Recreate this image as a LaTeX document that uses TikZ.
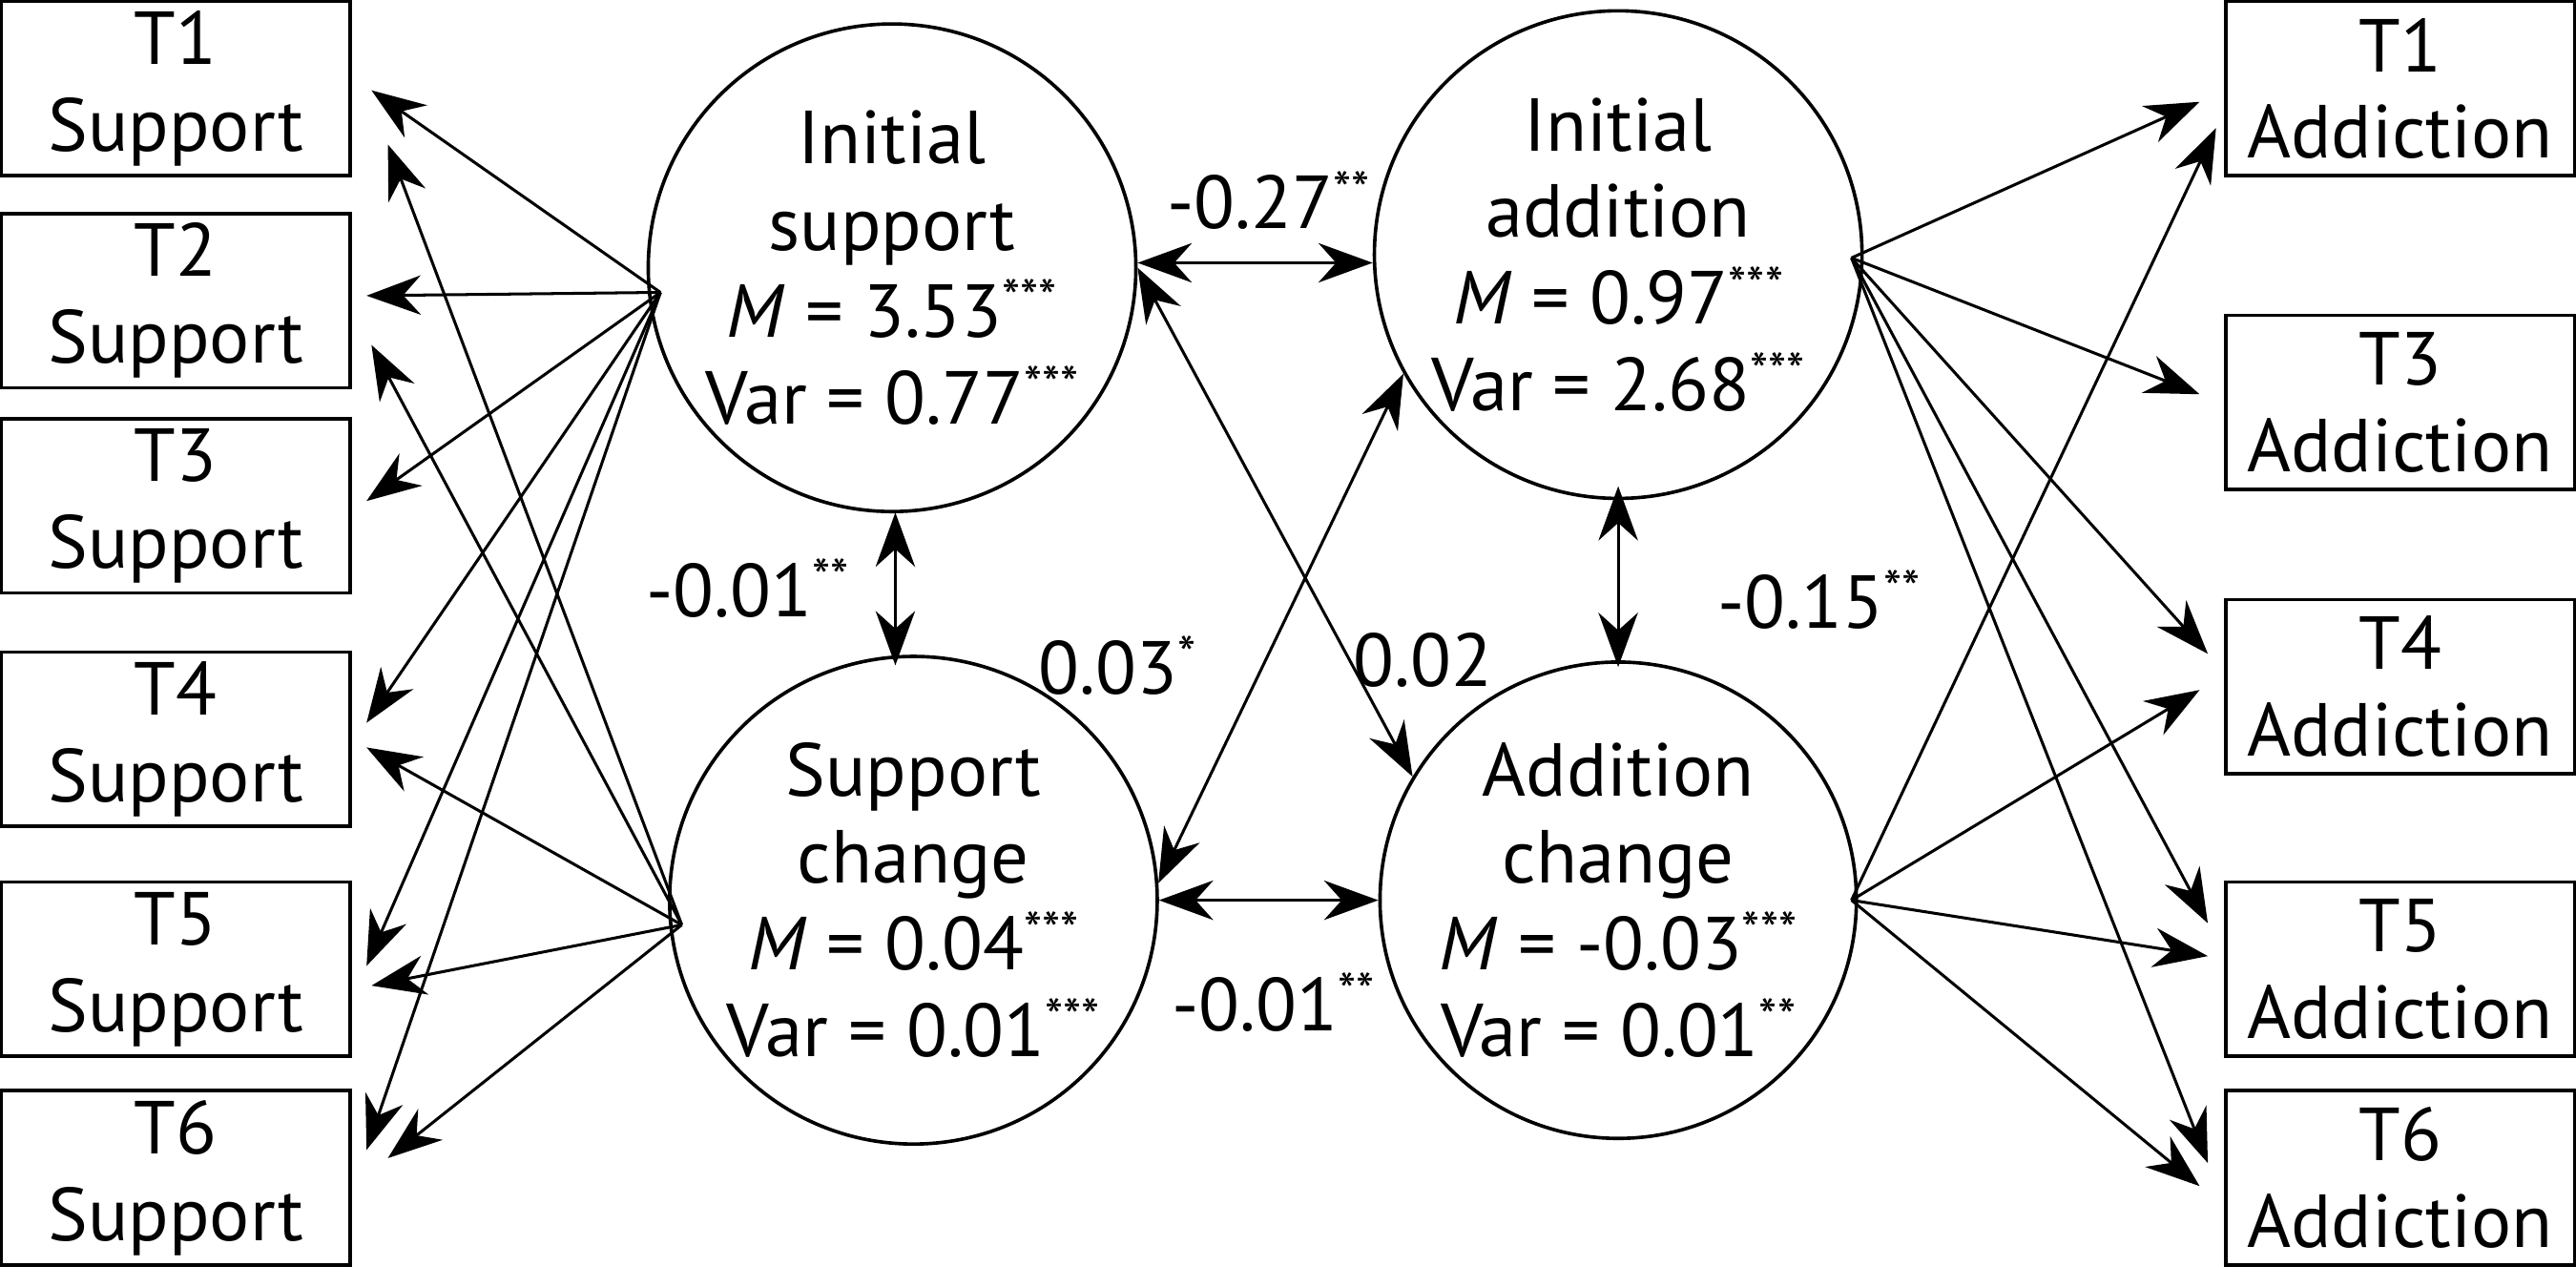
\documentclass[tikz,border=0pt]{standalone}
\usepackage{fontspec}
\setmainfont{PT Sans}
\usetikzlibrary{arrows.meta}
\begin{document}
\begin{tikzpicture}[x=0.01cm,y=-0.01cm,
  font=\fontsize{13}{15}\selectfont,
  box/.style={draw,line width=0.6pt,minimum width=2.12cm,minimum height=1.06cm,inner sep=0pt,align=center},
  lat/.style={draw,circle,line width=0.6pt,minimum size=2.84cm,inner sep=0pt,align=center},
  ar/.style={line width=0.5pt,-{Stealth[length=0.33cm,width=0.24cm]}},
  dar/.style={line width=0.5pt,{Stealth[length=0.33cm,width=0.24cm]}-{Stealth[length=0.33cm,width=0.24cm]}},
  lab/.style={inner sep=0pt}]
\useasboundingbox (0,0) rectangle (1568,783);
\newcommand{\st}[1]{\raisebox{0.55ex}{\fontsize{9}{9}\selectfont #1}}
% left boxes
\node[box] (s1) at (107,54) {T1\\Support};
\node[box] (s2) at (107,183) {T2\\Support};
\node[box] (s3) at (107,308) {T3\\Support};
\node[box] (s4) at (107,450) {T4\\Support};
\node[box] (s5) at (107,590) {T5\\Support};
\node[box] (s6) at (107,717) {T6\\Support};
% right boxes
\node[box] (a1) at (1461,54) {T1\\Addiction};
\node[box] (a3) at (1461,245) {T3\\Addiction};
\node[box] (a4) at (1461,418) {T4\\Addiction};
\node[box] (a5) at (1461,590) {T5\\Addiction};
\node[box] (a6) at (1461,717) {T6\\Addiction};
% latent
\node[lat] (is) at (543,163) {Initial\\support\\\textit{M} = 3.53\st{***}\\Var = 0.77\st{***}};
\node[lat] (ia) at (985,155) {Initial\\addition\\\textit{M} = 0.97\st{***}\\Var = 2.68\st{***}};
\node[lat] (sc) at (556,548) {Support\\change\\\textit{M} = 0.04\st{***}\\Var = 0.01\st{***}};
\node[lat] (ac) at (985,548) {Addition\\change\\\textit{M} = -0.03\st{***}\\Var = 0.01\st{**}};
% left arrows from initial support
\coordinate (isp) at ([shift={(-141,15)}]is.center);
\draw[ar] (isp) -- ([shift={(12,1)}]s1.east);
\draw[ar] (isp) -- ([shift={(9,-3)}]s2.east);
\draw[ar] (isp) -- ([shift={(9,-3)}]s3.east);
\draw[ar] (isp) -- ([shift={(9,-10)}]s4.east);
\draw[ar] (isp) -- ([shift={(9,-2)}]s5.east);
\draw[ar] (isp) -- ([shift={(9,-17)}]s6.east);
% from support change
\coordinate (scp) at ([shift={(-141,15)}]sc.center);
\draw[ar] (scp) -- ([shift={(22,34)}]s1.east);
\draw[ar] (scp) -- ([shift={(12,27)}]s2.east);
\draw[ar] (scp) -- ([shift={(9,5)}]s4.east);
\draw[ar] (scp) -- ([shift={(12,10)}]s5.east);
\draw[ar] (scp) -- ([shift={(22,-12)}]s6.east);
% right from initial addition
\coordinate (iap) at ([shift={(142,2)}]ia.center);
\draw[ar] (iap) -- ([shift={(-15,8)}]a1.west);
\draw[ar] (iap) -- ([shift={(-15,-5)}]a3.west);
\draw[ar] (iap) -- ([shift={(-10,-20)}]a4.west);
\draw[ar] (iap) -- ([shift={(-10,-28)}]a5.west);
\draw[ar] (iap) -- ([shift={(-10,-9)}]a6.west);
% right from addition change
\coordinate (acp) at ([shift={(142,0)}]ac.center);
\draw[ar] (acp) -- ([shift={(-5,24)}]a1.west);
\draw[ar] (acp) -- ([shift={(-15,2)}]a4.west);
\draw[ar] (acp) -- ([shift={(-10,-8)}]a5.west);
\draw[ar] (acp) -- ([shift={(-15,5)}]a6.west);
% covariances
\draw[dar] (is.east |- 0,160) -- (ia.west |- 0,160);
\node[lab] at (772,122) {-0.27\st{**}};
\draw[dar] (545,312) -- (545,405);
\node[lab] at (455,358) {-0.01\st{**}};
\draw[dar] (985,296) -- (985,406);
\node[lab] at (1107,365) {-0.15\st{**}};
\draw[dar] (sc.east |- 0,548) -- (ac.west |- 0,548);
\node[lab] at (775,610) {-0.01\st{**}};
\draw[dar] (is.0) -- (ac.149);
\node[lab] at (866,402) {0.02};
\draw[dar] (sc.4) -- (ia.209);
\node[lab] at (680,405) {0.03\st{*}};
\end{tikzpicture}
\end{document}
